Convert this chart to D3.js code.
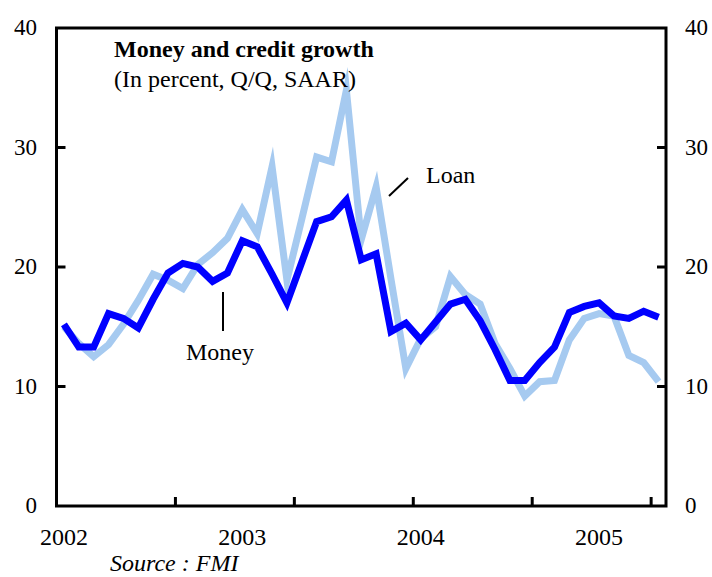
<!DOCTYPE html>
<html>
<head>
<meta charset="utf-8">
<script src="https://cdn.jsdelivr.net/npm/d3@7"></script>
<style>
  html, body { margin: 0; padding: 0; background: #ffffff; }
  svg { display: block; }
  text { font-family: "Liberation Serif", "Times New Roman", serif; fill: #000; }
</style>
</head>
<body>
<svg id="chart" width="712" height="577"></svg>
<script>
// ---- data (monthly, Jan 2002 - May 2005) ----
const months = [
  "2002-01","2002-02","2002-03","2002-04","2002-05","2002-06","2002-07","2002-08","2002-09","2002-10","2002-11","2002-12",
  "2003-01","2003-02","2003-03","2003-04","2003-05","2003-06","2003-07","2003-08","2003-09","2003-10","2003-11","2003-12",
  "2004-01","2004-02","2004-03","2004-04","2004-05","2004-06","2004-07","2004-08","2004-09","2004-10","2004-11","2004-12",
  "2005-01","2005-02","2005-03","2005-04","2005-05"
];
const money = [15.2, 13.3, 13.3, 16.1, 15.7, 14.9, 17.3, 19.5, 20.3, 20.0, 18.8, 19.5,
               22.2, 21.7, 19.4, 17.0, 20.4, 23.8, 24.2, 25.6, 20.6, 21.1, 14.6, 15.3,
               13.9, 15.4, 16.9, 17.3, 15.5, 13.1, 10.5, 10.5, 12.0, 13.3, 16.2, 16.7,
               17.0, 15.9, 15.7, 16.3, 15.8];
const loan  = [15.0, 13.6, 12.5, 13.5, 15.2, 17.2, 19.4, 18.9, 18.2, 20.2, 21.2, 22.4,
               24.8, 22.8, 28.4, 18.9, 24.0, 29.2, 28.8, 34.8, 22.3, 26.7, 19.0, 11.5,
               14.0, 15.0, 19.2, 17.7, 16.9, 13.6, 11.5, 9.2, 10.4, 10.5, 13.9, 15.7,
               16.1, 15.9, 12.6, 12.0, 10.4];
const yTicks = [0, 10, 20, 30, 40];
const yearLabels = [{cat: "2002-01", label: "2002"}, {cat: "2003-01", label: "2003"},
                    {cat: "2004-01", label: "2004"}, {cat: "2005-01", label: "2005"}];
const xTickCats = ["2002-09", "2003-05", "2004-01", "2004-09", "2005-05"];
const titleText = "Money and credit growth";
const subtitleText = "(In percent, Q/Q, SAAR)";
const sourceText = "Source : FMI";

// ---- layout ----
const pLeft = 56.5, pRight = 666, pTop = 28, pBottom = 506;
const svg = d3.select("#chart");

const x = d3.scaleBand().domain(months).range([pLeft, pRight]).padding(0);
const y = d3.scaleLinear().domain([0, 40]).range([pBottom, pTop]);
const cx = d => x(d) + x.bandwidth() / 2;

// series
const line = d3.line().x((d, i) => cx(months[i])).y(d => y(d));
svg.append("path").datum(loan).attr("d", line)
  .attr("fill", "none").attr("stroke", "#A6CAF0").attr("stroke-width", 7)
  .attr("stroke-linejoin", "miter").attr("stroke-miterlimit", 10);
svg.append("path").datum(money).attr("d", line)
  .attr("fill", "none").attr("stroke", "#0000FF").attr("stroke-width", 7)
  .attr("stroke-linejoin", "miter").attr("stroke-miterlimit", 10);

// frame
svg.append("rect").attr("x", pLeft).attr("y", pTop)
  .attr("width", pRight - pLeft).attr("height", pBottom - pTop)
  .attr("fill", "none").attr("stroke", "#000").attr("stroke-width", 3);

// y ticks (left & right, inward)
const tl = 9;
yTicks.filter(t => t > 0 && t < 40).forEach(t => {
  svg.append("line").attr("x1", pLeft).attr("x2", pLeft + tl).attr("y1", y(t)).attr("y2", y(t))
    .attr("stroke", "#000").attr("stroke-width", 3);
  svg.append("line").attr("x1", pRight).attr("x2", pRight - tl).attr("y1", y(t)).attr("y2", y(t))
    .attr("stroke", "#000").attr("stroke-width", 3);
});
yTicks.forEach(t => {
  svg.append("text").attr("x", 37).attr("y", y(t) + 7).attr("text-anchor", "end")
    .attr("font-size", 23).text(t);
  svg.append("text").attr("x", 685).attr("y", y(t) + 7).attr("text-anchor", "start")
    .attr("font-size", 23).text(t);
});

// x ticks (upward, at category boundaries)
xTickCats.forEach(c => {
  svg.append("line").attr("x1", x(c)).attr("x2", x(c)).attr("y1", pBottom).attr("y2", pBottom - tl)
    .attr("stroke", "#000").attr("stroke-width", 3);
});
yearLabels.forEach(d => {
  svg.append("text").attr("x", cx(d.cat)).attr("y", 545).attr("text-anchor", "middle")
    .attr("font-size", 24).text(d.label);
});

// titles
svg.append("text").attr("x", 114).attr("y", 57).attr("font-size", 24).attr("font-weight", "bold").text(titleText);
svg.append("text").attr("x", 114).attr("y", 87).attr("font-size", 24).text(subtitleText);

// annotations
svg.append("line").attr("x1", 223).attr("x2", 223)
  .attr("y1", 292).attr("y2", 331).attr("stroke", "#000").attr("stroke-width", 2);
svg.append("text").attr("x", 186).attr("y", 360).attr("font-size", 24).text("Money");
svg.append("line").attr("x1", 389).attr("y1", 196).attr("x2", 408).attr("y2", 178)
  .attr("stroke", "#000").attr("stroke-width", 2);
svg.append("text").attr("x", 426).attr("y", 183).attr("font-size", 24).text("Loan");

// source
svg.append("text").attr("x", 110).attr("y", 571).attr("font-size", 24)
  .attr("font-style", "italic").text(sourceText);
</script>
</body>
</html>
